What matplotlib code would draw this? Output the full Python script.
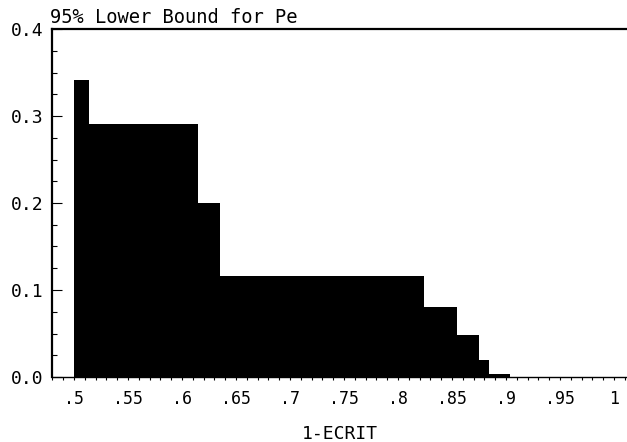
import matplotlib
matplotlib.use('Agg')
import matplotlib.pyplot as plt
import numpy as np
from matplotlib.ticker import MultipleLocator

# Data
EDGES = [0.500, 0.514, 0.615, 0.635, 0.824, 0.855, 0.875, 0.884, 0.904]
LOWER_BOUND = [0.341, 0.291, 0.200, 0.116, 0.080, 0.048, 0.020, 0.003]
XTICKS = [0.5, 0.55, 0.6, 0.65, 0.7, 0.75, 0.8, 0.85, 0.9, 0.95, 1.0]
XTICK_LABELS = ['.5', '.55', '.6', '.65', '.7', '.75', '.8', '.85', '.9', '.95', '1']
YTICKS = [0.0, 0.1, 0.2, 0.3, 0.4]
YTICK_LABELS = ['0.0', '0.1', '0.2', '0.3', '0.4']

FONT = 'DejaVu Sans Mono'

fig = plt.figure(figsize=(6.27, 4.42), dpi=100)
ax = fig.add_axes([52 / 627, 1 - 377 / 442, 1 - 52 / 627, (377 - 29) / 442])

ax.stairs(LOWER_BOUND, EDGES, fill=True, color='black', linewidth=0)

ax.set_xlim(0.4796, 1.012)
ax.set_ylim(0, 0.4)

ax.set_xticks(XTICKS)
ax.set_xticklabels(XTICK_LABELS, fontfamily=FONT, fontsize=12)
ax.xaxis.set_minor_locator(MultipleLocator(0.01))
ax.set_yticks(YTICKS)
ax.set_yticklabels(YTICK_LABELS, fontfamily=FONT, fontsize=13)
ax.yaxis.set_minor_locator(MultipleLocator(0.025))

ax.tick_params(axis='x', which='both', direction='out', length=2.5, width=0.8, pad=7)
ax.tick_params(axis='y', which='major', direction='in', length=7, width=0.8, pad=6)
ax.tick_params(axis='y', which='minor', direction='in', length=3.5, width=0.8)

ax.spines['right'].set_visible(False)
ax.spines['top'].set_linewidth(1.6)
ax.spines['left'].set_linewidth(1.6)
ax.spines['bottom'].set_linewidth(1.0)

ax.set_xlabel('1-ECRIT', fontfamily=FONT, fontsize=13, labelpad=12)
fig.text(50 / 627, 1 - 23 / 442, '95% Lower Bound for Pe', fontfamily=FONT,
         fontsize=13.5, ha='left', va='baseline')

fig.savefig('out.png', dpi=100)
